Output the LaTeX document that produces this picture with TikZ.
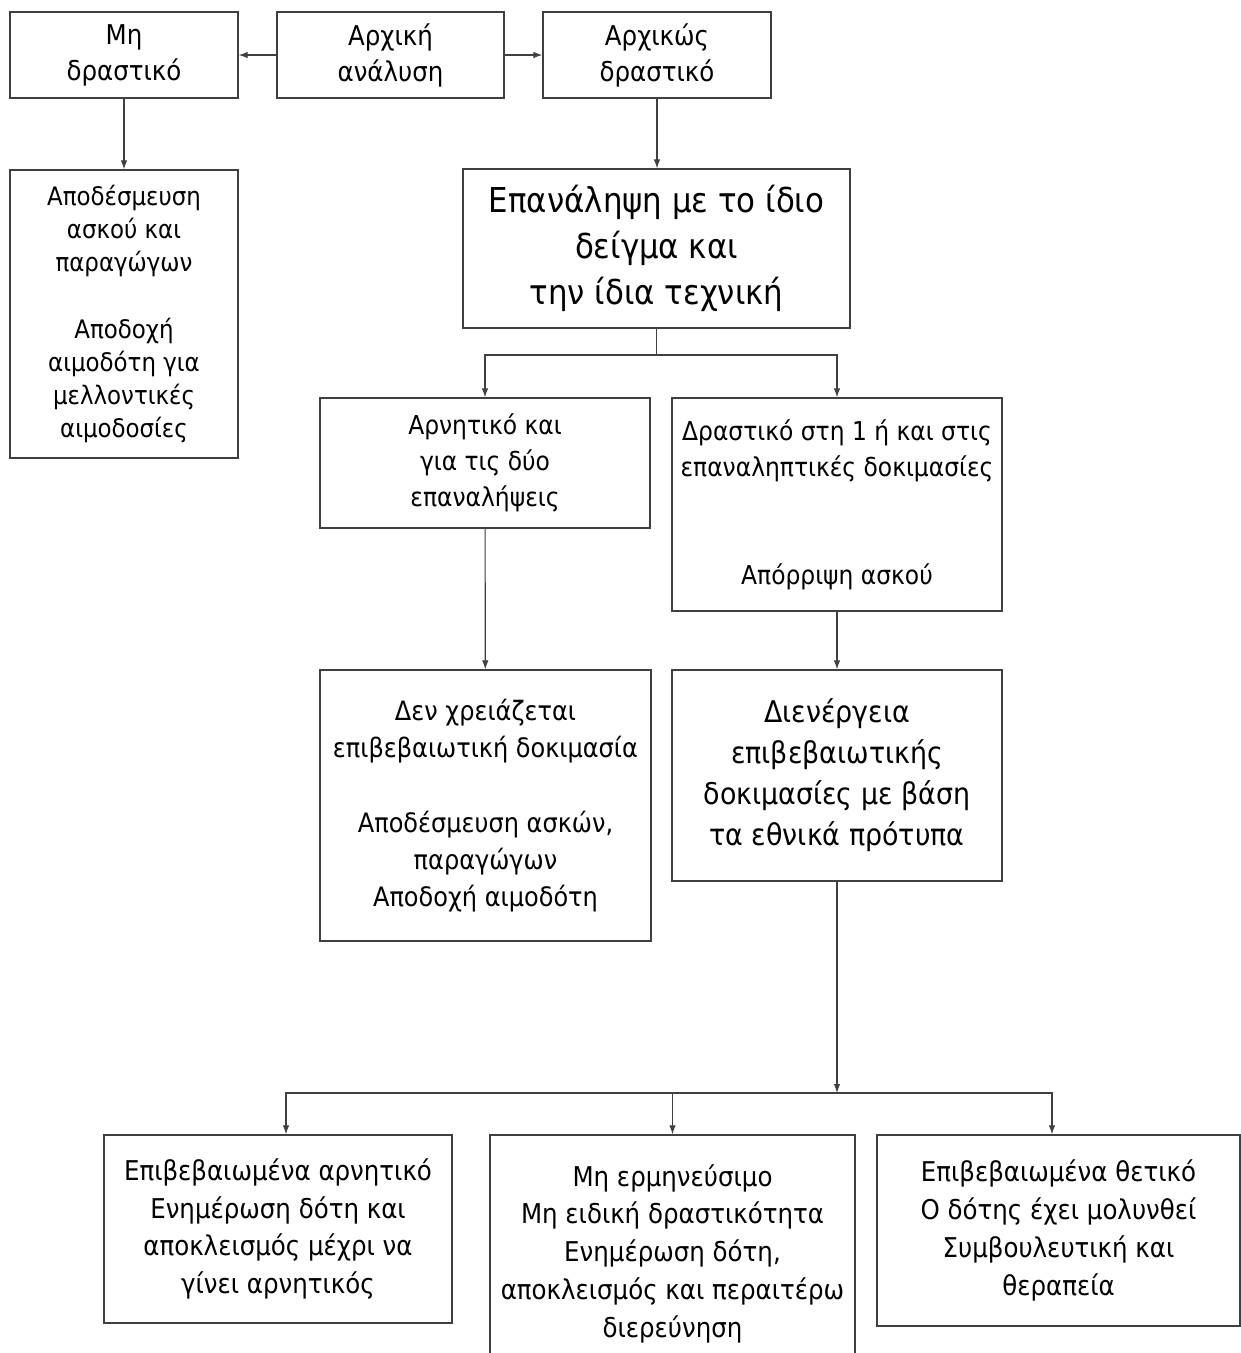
\documentclass[tikz,border=0pt]{standalone}
\usepackage{fontspec}
\setmainfont{DejaVu Sans}[FakeStretch=0.9]
\usetikzlibrary{arrows.meta}

\newcommand{\boxfont}{\fontsize{14.8}{20.5}\selectfont}
\newcommand{\topfont}{\fontsize{15.5}{20.5}\selectfont}
\newcommand{\lowfont}{\fontsize{15.5}{21.5}\selectfont}
\newcommand{\bigfont}{\fontsize{19.5}{26}\selectfont}
\newcommand{\midfont}{\fontsize{17}{23.3}\selectfont}

\tikzset{
  box/.style={draw=black!75, line width=0.75pt, align=center, inner sep=0pt},
  link/.style={black!75, line width=0.65pt, -{Latex[length=1.8mm,width=1.3mm]}},
  plain/.style={black!75, line width=0.65pt},
}

\begin{document}
\begin{tikzpicture}[x=0.02cm, y=-0.02cm]
  \clip (0,0) rectangle (1241,1353);
  \fill[white] (0,0) rectangle (1241,1353);
  % first row
  \node[box, minimum width=4.56cm, minimum height=1.72cm, font=\topfont] (nonreact) at (124,55) {Μη\\δραστικό};
  \node[box, minimum width=4.54cm, minimum height=1.72cm, font=\topfont] (initial) at (390.5,55) {Αρχική\\ανάλυση};
  \node[box, minimum width=4.56cm, minimum height=1.72cm, font=\topfont] (initreact) at (657,55) {Αρχικώς\\δραστικό};
  % second row
  \node[box, minimum width=4.56cm, minimum height=5.76cm, font=\fontsize{14.5}{18.8}\selectfont] (release) at (124,314)
    {Αποδέσμευση\\ασκού και\\παραγώγων\\[0.68cm]Αποδοχή\\αιμοδότη για\\μελλοντικές\\αιμοδοσίες};
  \node[box, minimum width=7.74cm, minimum height=3.18cm, font=\bigfont] (repeat) at (656.5,248.5)
    {Επανάληψη με το ίδιο\\δείγμα και\\την ίδια τεχνική};
  % repeat results
  \node[box, minimum width=6.6cm, minimum height=2.6cm, font=\boxfont] (negboth) at (485,463)
    {Αρνητικό και\\για τις δύο\\επαναλήψεις};
  \node[box, minimum width=6.6cm, minimum height=4.26cm, font=\boxfont] (reactive) at (837,504.5)
    {Δραστικό στη 1 ή και στις\\επαναληπτικές δοκιμασίες\\[1.44cm]Απόρριψη ασκού};
  \node[box, minimum width=6.62cm, minimum height=5.42cm, font=\fontsize{15.2}{21}\selectfont] (noconf) at (485.5,805.5)
    {Δεν χρειάζεται\\επιβεβαιωτική δοκιμασία\\[0.76cm]Αποδέσμευση ασκών,\\παραγώγων\\Αποδοχή αιμοδότη};
  \node[box, minimum width=6.6cm, minimum height=4.22cm, font=\midfont] (confirm) at (837,775.5)
    {Διενέργεια\\επιβεβαιωτικής\\δοκιμασίες με βάση\\τα εθνικά πρότυπα};
  % final outcomes
  \node[box, minimum width=6.96cm, minimum height=3.76cm, font=\lowfont] (negative) at (278,1229)
    {Επιβεβαιωμένα αρνητικό\\Ενημέρωση δότη και\\αποκλεισμός μέχρι να\\γίνει αρνητικός};
  \node[box, minimum width=7.3cm, minimum height=4.74cm, font=\lowfont] (indet) at (672.5,1253.5)
    {Μη ερμηνεύσιμο\\Μη ειδική δραστικότητα\\Ενημέρωση δότη,\\αποκλεισμός και περαιτέρω\\διερεύνηση};
  \node[box, minimum width=7.26cm, minimum height=3.82cm, font=\lowfont] (positive) at (1058.5,1230.5)
    {Επιβεβαιωμένα θετικό\\Ο δότης έχει μολυνθεί\\Συμβουλευτική και\\θεραπεία};

  \draw[link] (initial) -- (nonreact);
  \draw[link] (initial) -- (initreact);
  \draw[link] (nonreact) -- (release);
  \draw[link] (initreact.south) -- (initreact.south |- repeat.north);
  \coordinate (split1) at (656.5,355);
  \draw[plain] (repeat.south) -- (split1);
  \draw[link] (split1) -| (negboth.north);
  \draw[link] (split1) -| (reactive.north);
  \draw[link] (negboth) -- (noconf);
  \draw[link] (reactive) -- (confirm);
  \coordinate (split2) at (837,1093);
  \draw[link] (confirm.south) -- (split2);
  \draw[link] (split2) -| ([xshift=0.16cm]negative.north);
  \draw[link] (split2) -| (indet.north);
  \draw[link] (split2) -| ([xshift=-0.13cm]positive.north);
\end{tikzpicture}
\end{document}
